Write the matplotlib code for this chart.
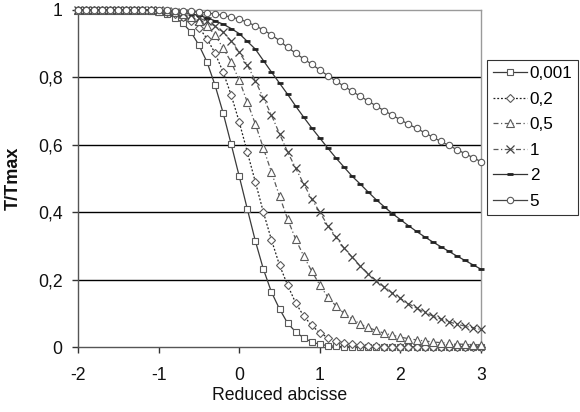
import numpy as np
import matplotlib
matplotlib.use("Agg")
import matplotlib.pyplot as plt

plt.rcParams['font.family'] = ['Liberation Sans', 'DejaVu Sans']

x = np.round(np.arange(-2.0, 3.0001, 0.1), 1)

s_0001 = [1.0]*9 + [0.998, 0.995, 0.989, 0.977, 0.961, 0.935, 0.896, 0.846, 0.777, 0.695,
          0.602, 0.507, 0.41, 0.315, 0.231, 0.163, 0.113, 0.071, 0.045, 0.027,
          0.015, 0.008, 0.004, 0.002, 0.001] + [0.0]*17
s_02 = [1.0]*9 + [0.999, 0.997, 0.994, 0.988, 0.979, 0.966, 0.948, 0.915, 0.872, 0.816,
        0.748, 0.668, 0.579, 0.49, 0.40, 0.318, 0.243, 0.184, 0.131, 0.092,
        0.064, 0.042, 0.028, 0.019, 0.012, 0.008, 0.005, 0.003, 0.002, 0.001] + [0.0]*12
s_05 = [1.0]*9 + [0.999, 0.998, 0.996, 0.993, 0.988, 0.98, 0.968, 0.953, 0.926, 0.887,
        0.846, 0.792, 0.727, 0.662, 0.59, 0.519, 0.448, 0.38, 0.32, 0.27,
        0.225, 0.184, 0.148, 0.122, 0.1, 0.084, 0.068, 0.058, 0.049, 0.041,
        0.035, 0.029, 0.025, 0.021, 0.018, 0.015, 0.013, 0.011, 0.009, 0.008,
        0.007, 0.006]
s_1 = [1.0]*10 + [0.999, 0.997, 0.995, 0.991, 0.985, 0.977, 0.966, 0.952, 0.935, 0.908,
       0.875, 0.837, 0.79, 0.739, 0.688, 0.633, 0.579, 0.531, 0.484, 0.439,
       0.4, 0.36, 0.326, 0.294, 0.267, 0.241, 0.218, 0.197, 0.178, 0.16,
       0.144, 0.129, 0.115, 0.103, 0.092, 0.083, 0.075, 0.068, 0.062, 0.057,
       0.052]
s_2 = [1.0]*10 + [0.999, 0.998, 0.996, 0.993, 0.989, 0.984, 0.977, 0.968, 0.958, 0.945,
       0.93, 0.907, 0.884, 0.85, 0.816, 0.783, 0.75, 0.715, 0.682, 0.65,
       0.62, 0.59, 0.561, 0.534, 0.507, 0.484, 0.46, 0.437, 0.416, 0.396,
       0.378, 0.36, 0.343, 0.327, 0.312, 0.298, 0.284, 0.27, 0.257, 0.244,
       0.231]
s_5 = [1.0]*11 + [0.999, 0.998, 0.997, 0.996, 0.994, 0.991, 0.988, 0.984, 0.979,
       0.973, 0.964, 0.953, 0.941, 0.926, 0.909, 0.889, 0.872, 0.855, 0.839,
       0.822, 0.805, 0.789, 0.774, 0.759, 0.744, 0.73, 0.715, 0.701, 0.688,
       0.674, 0.661, 0.649, 0.636, 0.623, 0.61, 0.598, 0.586, 0.574, 0.562,
       0.55]

labels = ["0,001", "0,2", "0,5", "1", "2", "5"]
xticks = [-2, -1, 0, 1, 2, 3]
xticklabels = ["-2", "-1", "0", "1", "2", "3"]
yticks = [0, 0.2, 0.4, 0.6, 0.8, 1.0]
yticklabels = ["0", "0,2", "0,4", "0,6", "0,8", "1"]

W, H = 580, 412
FS = 12.7
fig = plt.figure(figsize=(W/100, H/100), dpi=100)
ax = fig.add_axes([78/W, 1-347/H, (481-78)/W, (347-10)/H])

styles = [
    dict(color='#3a3a3a', ls='-', marker='s', ms=4.6, mfc='white', mec='#5a5a5a', mew=0.8),
    dict(color='#222222', ls=(0, (1.5, 1.5)), marker='D', ms=3.8, mfc='white', mec='#5a5a5a', mew=0.8),
    dict(color='#5a5a5a', ls=(0, (4, 2, 1, 2)), marker='^', ms=5.2, mfc='white', mec='#5a5a5a', mew=0.8),
    dict(color='#5a5a5a', ls=(0, (4, 2, 1, 2)), marker='x', ms=5.5, mfc='none', mec='#444444', mew=0.9),
    dict(color='#333333', ls='-', marker='_', ms=4.0, mfc='none', mec='#222222', mew=2.0),
    dict(color='#444444', ls='-', marker='o', ms=4.6, mfc='white', mec='#5a5a5a', mew=0.8),
]
series = [s_0001, s_02, s_05, s_1, s_2, s_5]
handles = []
for s, st, lab in zip(series, styles, labels):
    h, = ax.plot(x, s, lw=0.9, clip_on=False, label=lab, zorder=3, **st)
    handles.append(h)

ax.set_xlim(-2, 3)
ax.set_ylim(0, 1)
ax.set_xticks(xticks)
ax.set_xticklabels(xticklabels)
ax.set_yticks(yticks)
ax.set_yticklabels(yticklabels)
for yv in yticks[1:-1]:
    ax.axhline(yv, color='black', lw=1.0, zorder=1)

for side in ['top', 'right']:
    ax.spines[side].set_color('#9a9a9a')
    ax.spines[side].set_linewidth(1.0)
for side in ['left', 'bottom']:
    ax.spines[side].set_color('#555555')
    ax.spines[side].set_linewidth(1.0)

ax.tick_params(axis='both', direction='out', length=4.5, width=1.0, color='#333333',
               labelsize=FS, labelcolor='#111111')
ax.tick_params(axis='y', pad=6.5)
ax.tick_params(axis='x', pad=10)
ax.set_xlabel("Reduced abcisse", fontsize=FS, labelpad=2, color='#111111')
ax.set_ylabel("T/Tmax", fontsize=13, fontweight='bold', labelpad=12, color='#111111')

leg = fig.legend(handles=handles, loc='upper left', bbox_to_anchor=(487/W, 1-60/H),
                 fontsize=12.3, frameon=True, fancybox=False, edgecolor='black',
                 labelspacing=0.62, handlelength=2.0, handletextpad=0.15,
                 borderpad=0.35, borderaxespad=0.0)
leg.get_frame().set_linewidth(0.8)

fig.savefig("out.png", dpi=100)
